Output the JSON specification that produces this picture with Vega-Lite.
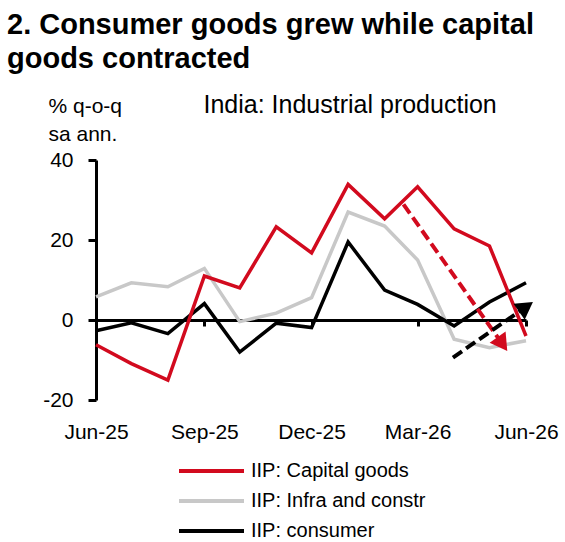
{
  "$schema": "https://vega.github.io/schema/vega-lite/v6.json",
  "autosize": "none",
  "width": 430,
  "height": 240,
  "padding": {"left": 96, "top": 160, "right": 39, "bottom": 142},
  "background": "white",
  "config": {
    "font": "Liberation Sans",
    "view": {"stroke": null},
    "axis": {"grid": false, "labelColor": "black", "titleColor": "black"}
  },
  "title": {
    "text": ["2. Consumer goods grew while capital", "goods contracted"],
    "anchor": "start",
    "frame": "group",
    "dx": -89,
    "offset": 18,
    "fontSize": 29,
    "fontWeight": "bold",
    "lineHeight": 34,
    "color": "black"
  },
  "datasets": {
    "iip": [
      {"month": "2025-06-01", "series": "IIP: Infra and constr", "value": 5.8},
      {"month": "2025-07-01", "series": "IIP: Infra and constr", "value": 9.3},
      {"month": "2025-08-01", "series": "IIP: Infra and constr", "value": 8.3},
      {"month": "2025-09-01", "series": "IIP: Infra and constr", "value": 12.9},
      {"month": "2025-10-01", "series": "IIP: Infra and constr", "value": -0.4},
      {"month": "2025-11-01", "series": "IIP: Infra and constr", "value": 1.7},
      {"month": "2025-12-01", "series": "IIP: Infra and constr", "value": 5.6},
      {"month": "2026-01-01", "series": "IIP: Infra and constr", "value": 27.0},
      {"month": "2026-02-01", "series": "IIP: Infra and constr", "value": 23.5},
      {"month": "2026-03-01", "series": "IIP: Infra and constr", "value": 15.0},
      {"month": "2026-04-01", "series": "IIP: Infra and constr", "value": -4.8},
      {"month": "2026-05-01", "series": "IIP: Infra and constr", "value": -6.9},
      {"month": "2026-06-01", "series": "IIP: Infra and constr", "value": -5.2},
      {"month": "2025-06-01", "series": "IIP: consumer", "value": -2.7},
      {"month": "2025-07-01", "series": "IIP: consumer", "value": -0.7},
      {"month": "2025-08-01", "series": "IIP: consumer", "value": -3.4},
      {"month": "2025-09-01", "series": "IIP: consumer", "value": 4.1},
      {"month": "2025-10-01", "series": "IIP: consumer", "value": -8.0},
      {"month": "2025-11-01", "series": "IIP: consumer", "value": -0.8},
      {"month": "2025-12-01", "series": "IIP: consumer", "value": -1.9},
      {"month": "2026-01-01", "series": "IIP: consumer", "value": 19.5},
      {"month": "2026-02-01", "series": "IIP: consumer", "value": 7.5},
      {"month": "2026-03-01", "series": "IIP: consumer", "value": 3.9},
      {"month": "2026-04-01", "series": "IIP: consumer", "value": -1.5},
      {"month": "2026-05-01", "series": "IIP: consumer", "value": 4.5},
      {"month": "2026-06-01", "series": "IIP: consumer", "value": 9.3},
      {"month": "2025-06-01", "series": "IIP: Capital goods", "value": -6.2},
      {"month": "2025-07-01", "series": "IIP: Capital goods", "value": -10.9},
      {"month": "2025-08-01", "series": "IIP: Capital goods", "value": -15.0},
      {"month": "2025-09-01", "series": "IIP: Capital goods", "value": 11.0},
      {"month": "2025-10-01", "series": "IIP: Capital goods", "value": 8.0},
      {"month": "2025-11-01", "series": "IIP: Capital goods", "value": 23.3},
      {"month": "2025-12-01", "series": "IIP: Capital goods", "value": 16.8},
      {"month": "2026-01-01", "series": "IIP: Capital goods", "value": 33.9},
      {"month": "2026-02-01", "series": "IIP: Capital goods", "value": 25.3},
      {"month": "2026-03-01", "series": "IIP: Capital goods", "value": 33.3},
      {"month": "2026-04-01", "series": "IIP: Capital goods", "value": 22.8},
      {"month": "2026-05-01", "series": "IIP: Capital goods", "value": 18.5},
      {"month": "2026-06-01", "series": "IIP: Capital goods", "value": -4.0}
    ],
    "capitalArrow": [
      {"month": "2026-02-17", "value": 28.9, "part": "tail"},
      {"month": "2026-05-12", "value": -6.0, "part": "head"}
    ],
    "consumerArrow": [
      {"month": "2026-03-31", "value": -9.4, "part": "tail"},
      {"month": "2026-06-01", "value": 3.3, "part": "head"}
    ]
  },
  "encoding": {
    "y": {
      "field": "value",
      "type": "quantitative",
      "scale": {"domain": [-20, 40], "nice": false, "zero": false},
      "axis": {
        "values": [-20, 0, 20, 40],
        "labelExpr": "'' + datum.value",
        "domainColor": "black",
        "domainWidth": 3,
        "tickColor": "black",
        "tickWidth": 3,
        "tickSize": 8,
        "labelPadding": 15,
        "labelFontSize": 21,
        "title": ["% q-o-q", "sa ann."],
        "titleAngle": 0,
        "titleAlign": "left",
        "titleBaseline": "alphabetic",
        "titleFontSize": 21,
        "titleFontWeight": "normal",
        "titleLineHeight": 28,
        "titleX": -48,
        "titleY": -48
      }
    }
  },
  "layer": [
    {
      "data": {"name": "iip"},
      "mark": {"type": "line", "strokeWidth": 3.5},
      "encoding": {
        "x": {
          "field": "month",
          "type": "temporal",
          "scale": {
            "type": "utc",
            "domain": [
              {"year": 2025, "month": 6, "date": 1, "utc": true},
              {"year": 2026, "month": 6, "date": 1, "utc": true}
            ]
          },
          "axis": {
            "orient": "bottom",
            "values": [
              {"year": 2025, "month": 6, "date": 1, "utc": true},
              {"year": 2025, "month": 9, "date": 1, "utc": true},
              {"year": 2025, "month": 12, "date": 1, "utc": true},
              {"year": 2026, "month": 3, "date": 1, "utc": true},
              {"year": 2026, "month": 6, "date": 1, "utc": true}
            ],
            "format": "%b-%y",
            "domain": false,
            "ticks": false,
            "tickSize": 0,
            "labelPadding": 21,
            "labelFontSize": 21,
            "labelFlush": false,
            "labelOverlap": false,
            "labelBound": false,
            "title": "India: Industrial production",
            "titleFontSize": 25,
            "titleFontWeight": "normal",
            "titleAlign": "left",
            "titleBaseline": "alphabetic",
            "titleX": 107,
            "titleY": -288
          }
        },
        "color": {
          "field": "series",
          "type": "nominal",
          "scale": {
            "domain": ["IIP: Capital goods", "IIP: Infra and constr", "IIP: consumer"],
            "range": ["#d20a1e", "#c8c8c8", "#000000"]
          },
          "legend": {
            "orient": "none",
            "legendX": 78,
            "legendY": 301,
            "title": null,
            "padding": 0,
            "symbolType": "M-1,0H12",
            "symbolSize": 100,
            "symbolStrokeWidth": 4,
            "labelFontSize": 20,
            "labelColor": "black",
            "labelOffset": 57,
            "labelLimit": 300,
            "rowPadding": 10
          }
        }
      }
    },
    {
      "data": {"name": "capitalArrow"},
      "mark": {"type": "line", "color": "#d20a1e", "strokeWidth": 4, "strokeDash": [11, 5]},
      "encoding": {
        "x": {
          "field": "month",
          "type": "temporal",
          "axis": {
            "orient": "bottom",
            "offset": -80,
            "values": [
              {"year": 2025, "month": 9, "date": 1, "utc": true},
              {"year": 2025, "month": 12, "date": 1, "utc": true},
              {"year": 2026, "month": 3, "date": 1, "utc": true},
              {"year": 2026, "month": 6, "date": 1, "utc": true}
            ],
            "labels": false,
            "title": null,
            "domainColor": "black",
            "domainWidth": 3,
            "tickColor": "black",
            "tickWidth": 3,
            "tickSize": 6
          }
        }
      }
    },
    {
      "data": {"name": "capitalArrow"},
      "transform": [{"filter": "datum.part === 'head'"}],
      "mark": {"type": "point", "shape": "triangle-up", "filled": true, "opacity": 1, "color": "#d20a1e", "size": 380, "angle": 145},
      "encoding": {
        "x": {"field": "month", "type": "temporal", "axis": null}
      }
    },
    {
      "data": {"name": "consumerArrow"},
      "mark": {"type": "line", "color": "#000000", "strokeWidth": 4, "strokeDash": [11, 5]},
      "encoding": {
        "x": {"field": "month", "type": "temporal", "axis": null}
      }
    },
    {
      "data": {"name": "consumerArrow"},
      "transform": [{"filter": "datum.part === 'head'"}],
      "mark": {"type": "point", "shape": "triangle-up", "filled": true, "opacity": 1, "color": "#000000", "size": 380, "angle": 55},
      "encoding": {
        "x": {"field": "month", "type": "temporal", "axis": null}
      }
    }
  ],
  "resolve": {"axis": {"x": "independent"}}
}
